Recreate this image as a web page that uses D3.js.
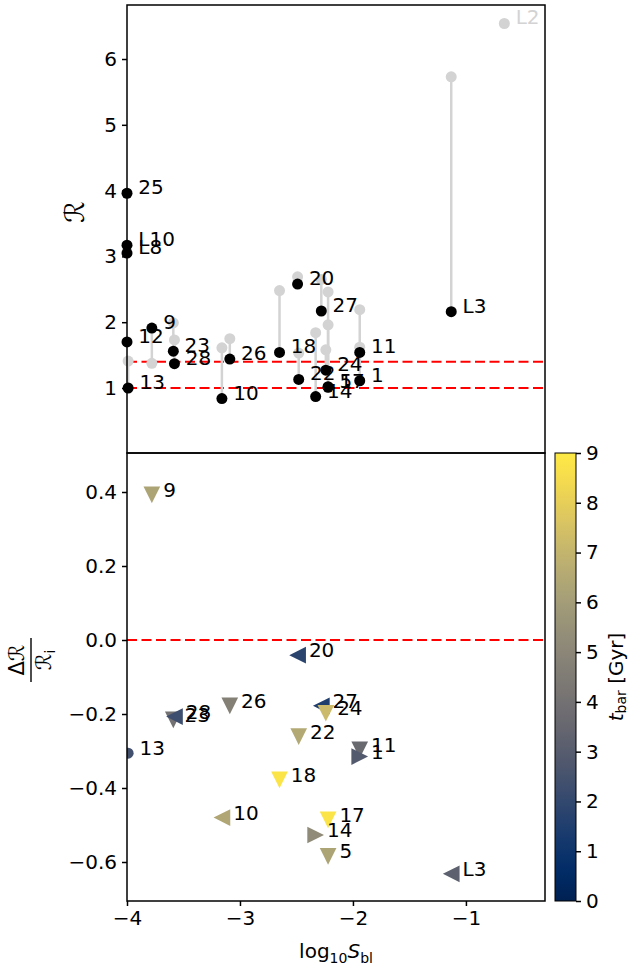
<!DOCTYPE html>
<html>
<head>
<meta charset="utf-8">
<script src="https://cdn.jsdelivr.net/npm/d3@7"></script>
<style>
  html, body { margin: 0; padding: 0; background: #fff; }
  svg { display: block; font-family: "DejaVu Sans", sans-serif; }
</style>
</head>
<body>
<svg id="chart" width="630" height="971"></svg>
<script>
// ---------------- data ----------------
const labels  = ["25","L10","L8","12","13","9","23","28","10","26","18","20","22","14","27","24","5","17","11","1","L3","L2"];
const logSbl  = [-4.0,-4.0,-4.0,-4.0,-3.99,-3.78,-3.59,-3.58,-3.16,-3.09,-2.65,-2.49,-2.48,-2.33,-2.28,-2.24,-2.22,-2.22,-1.94,-1.94,-1.13,-0.66];
const Rfinal  = [3.96,3.17,3.05,1.70,1.00,1.91,1.56,1.37,0.84,1.44,1.54,2.58,1.13,0.87,2.17,1.27,1.02,1.01,1.54,1.11,2.16,null];
const Rinit   = [null,null,null,null,1.41,1.375,1.99,1.73,1.61,1.75,2.48,2.69,1.53,1.84,2.65,1.58,2.46,1.96,2.19,1.62,5.73,6.54];
const deltaR  = [null,null,null,null,-0.306,0.392,-0.216,-0.207,-0.480,-0.178,-0.378,-0.041,-0.261,-0.527,-0.178,-0.198,-0.585,-0.486,-0.297,-0.315,-0.632,null];
const tbar    = [null,null,null,null,2.4,6.3,4.0,2.3,6.4,4.7,8.8,1.8,6.5,5.2,1.5,7.2,6.3,8.8,3.6,2.9,3.2,null];
const markers = [null,null,null,null,"circle","down","down","left","left","down","down","left","down","right","left","down","down","down","down","right","left",null];

const xTicks = [-4,-3,-2,-1];
const topYTicks = [1,2,3,4,5,6];
const botYTicks = [0.4,0.2,0.0,-0.2,-0.4,-0.6];
const cbTicks = [0,1,2,3,4,5,6,7,8,9];
const refLinesTop = [1.0, 1.4];
const refLinesBot = [0.0];

// ---------------- layout ----------------
const L = 127, R = 545;
const topT = 5, topB = 453, botT = 453, botB = 901;
const cbL = 555, cbR = 576;
const FS = 20;

const svg = d3.select("#chart");
const x = d3.scaleLinear().domain([-4, -0.3]).range([L, R]);
const yTop = d3.scaleLinear().domain([0.012, 6.821]).range([topB, topT]);
const yBot = d3.scaleLinear().domain([-0.7054, 0.5054]).range([botB, botT]);
const cScale = d3.scaleSequential(d3.interpolateCividis).domain([0, 9]);

const idx = d3.range(labels.length);

// ---------------- top panel ----------------
const gTop = svg.append("g");
refLinesTop.forEach(v => {
  gTop.append("line").attr("x1", L).attr("x2", R).attr("y1", yTop(v)).attr("y2", yTop(v))
    .attr("stroke", "red").attr("stroke-width", 2).attr("stroke-dasharray", "10,4.5");
});
const both = idx.filter(i => Rinit[i] != null && Rfinal[i] != null);
gTop.selectAll("line.conn").data(both).join("line").attr("class", "conn")
  .attr("x1", i => x(logSbl[i])).attr("x2", i => x(logSbl[i]))
  .attr("y1", i => yTop(Rinit[i])).attr("y2", i => yTop(Rfinal[i]))
  .attr("stroke", "#d3d3d3").attr("stroke-width", 2.5);
gTop.selectAll("circle.init").data(idx.filter(i => Rinit[i] != null)).join("circle").attr("class", "init")
  .attr("cx", i => x(logSbl[i])).attr("cy", i => yTop(Rinit[i])).attr("r", 5.5).attr("fill", "#d3d3d3");
gTop.selectAll("circle.fin").data(idx.filter(i => Rfinal[i] != null)).join("circle").attr("class", "fin")
  .attr("cx", i => x(logSbl[i])).attr("cy", i => yTop(Rfinal[i])).attr("r", 5.5).attr("fill", "#000");
gTop.selectAll("text.lab").data(idx).join("text").attr("class", "lab")
  .attr("x", i => x(logSbl[i] + 0.1))
  .attr("y", i => yTop(Rfinal[i] != null ? Rfinal[i] : Rinit[i]) + 1)
  .attr("font-size", FS)
  .attr("fill", i => Rfinal[i] != null ? "#000" : "#d3d3d3")
  .text(i => labels[i]);

gTop.append("g").attr("transform", `translate(${L},0)`)
  .call(d3.axisLeft(yTop).tickValues(topYTicks).tickFormat(d3.format("d")).tickSize(5).tickPadding(5))
  .call(g => { g.select(".domain").remove(); g.selectAll("line").attr("stroke-width", 1.5);
               g.selectAll("text").attr("font-size", FS).attr("font-family", "DejaVu Sans"); });

gTop.append("text").attr("transform", `translate(76,212) rotate(-90)`).attr("text-anchor", "middle")
  .attr("dominant-baseline", "middle").attr("font-size", 27).text("ℛ");

// ---------------- bottom panel ----------------
svg.append("defs").append("clipPath").attr("id", "clipBot")
  .append("rect").attr("x", L).attr("y", botT).attr("width", R - L).attr("height", botB - botT);
const gBot = svg.append("g");
refLinesBot.forEach(v => {
  gBot.append("line").attr("x1", L).attr("x2", R).attr("y1", yBot(v)).attr("y2", yBot(v))
    .attr("stroke", "red").attr("stroke-width", 2).attr("stroke-dasharray", "10,4.5");
});
const s = 16.7, h = s / 2;
function markerPath(m) {
  if (m === "down")  return `M0,${h}L${-h},${-h}L${h},${-h}Z`;
  if (m === "left")  return `M${-h},0L${h},${-h}L${h},${h}Z`;
  if (m === "right") return `M${h},0L${-h},${-h}L${-h},${h}Z`;
  return d3.symbol(d3.symbolCircle, Math.PI * 5.5 * 5.5)();
}
const botIdx = idx.filter(i => deltaR[i] != null);
gBot.append("g").attr("clip-path", "url(#clipBot)")
  .selectAll("path").data(botIdx).join("path")
  .attr("transform", i => `translate(${x(logSbl[i])},${yBot(deltaR[i])})`)
  .attr("d", i => markerPath(markers[i]))
  .attr("fill", i => cScale(tbar[i]));
gBot.selectAll("text.lab").data(botIdx).join("text").attr("class", "lab")
  .attr("x", i => x(logSbl[i] + 0.1)).attr("y", i => yBot(deltaR[i]) + 2)
  .attr("font-size", FS).text(i => labels[i]);

gBot.append("g").attr("transform", `translate(${L},0)`)
  .call(d3.axisLeft(yBot).tickValues(botYTicks).tickFormat(d3.format(".1f")).tickSize(5).tickPadding(5))
  .call(g => { g.select(".domain").remove(); g.selectAll("line").attr("stroke-width", 1.5);
               g.selectAll("text").attr("font-size", FS).attr("font-family", "DejaVu Sans"); });
gBot.append("g").attr("transform", `translate(0,${botB})`)
  .call(d3.axisBottom(x).tickValues(xTicks).tickFormat(d3.format("d")).tickSize(5).tickPadding(5))
  .call(g => { g.select(".domain").remove(); g.selectAll("line").attr("stroke-width", 1.5);
               g.selectAll("text").attr("font-size", FS).attr("font-family", "DejaVu Sans"); });

// y label fraction
const fr = gBot.append("g").attr("transform", "translate(31,660) rotate(-90)");
fr.append("text").attr("x", 0).attr("y", -7).attr("text-anchor", "middle").attr("font-size", 21).text("Δℛ");
fr.append("line").attr("x1", -22).attr("x2", 22).attr("y1", 0).attr("y2", 0).attr("stroke", "#000").attr("stroke-width", 1.4);
const den = fr.append("text").attr("x", 0).attr("y", 20).attr("text-anchor", "middle").attr("font-size", 21);
den.append("tspan").text("ℛ");
den.append("tspan").attr("font-size", 14).attr("dy", 4).text("i");

// x label
const xl = svg.append("text").attr("x", 336).attr("y", 958).attr("text-anchor", "middle").attr("font-size", FS);
xl.append("tspan").text("log");
xl.append("tspan").attr("font-size", 14).attr("dy", 5).text("10");
xl.append("tspan").attr("dy", -5).attr("font-style", "italic").text("S");
xl.append("tspan").attr("font-size", 14).attr("dy", 5).text("bl");

// frames
svg.append("rect").attr("x", L).attr("y", topT).attr("width", R - L).attr("height", topB - topT)
  .attr("fill", "none").attr("stroke", "#000").attr("stroke-width", 1.5);
svg.append("rect").attr("x", L).attr("y", botT).attr("width", R - L).attr("height", botB - botT)
  .attr("fill", "none").attr("stroke", "#000").attr("stroke-width", 1.5);

// ---------------- colorbar ----------------
const cbY = d3.scaleLinear().domain([0, 9]).range([botB, botT]);
const grad = svg.select("defs").append("linearGradient").attr("id", "cbgrad")
  .attr("x1", 0).attr("y1", 1).attr("x2", 0).attr("y2", 0);
d3.range(0, 1.0001, 0.02).forEach(t => {
  grad.append("stop").attr("offset", t).attr("stop-color", cScale(t * 9));
});
svg.append("rect").attr("x", cbL).attr("y", botT).attr("width", cbR - cbL).attr("height", botB - botT)
  .attr("fill", "url(#cbgrad)").attr("stroke", "#000").attr("stroke-width", 1);
svg.append("g").attr("transform", `translate(${cbR},0)`)
  .call(d3.axisRight(cbY).tickValues(cbTicks).tickFormat(d3.format("d")).tickSize(5).tickPadding(5))
  .call(g => { g.select(".domain").remove(); g.selectAll("line").attr("stroke-width", 1.5);
               g.selectAll("text").attr("font-size", FS).attr("font-family", "DejaVu Sans"); });
const cl = svg.append("text").attr("transform", `translate(617,677) rotate(-90)`).attr("text-anchor", "middle")
  .attr("dominant-baseline", "middle").attr("font-size", FS);
cl.append("tspan").attr("font-style", "italic").text("t");
cl.append("tspan").attr("font-size", 14).attr("dy", 5).text("bar");
cl.append("tspan").attr("dy", -5).text(" [Gyr]");
</script>
</body>
</html>
